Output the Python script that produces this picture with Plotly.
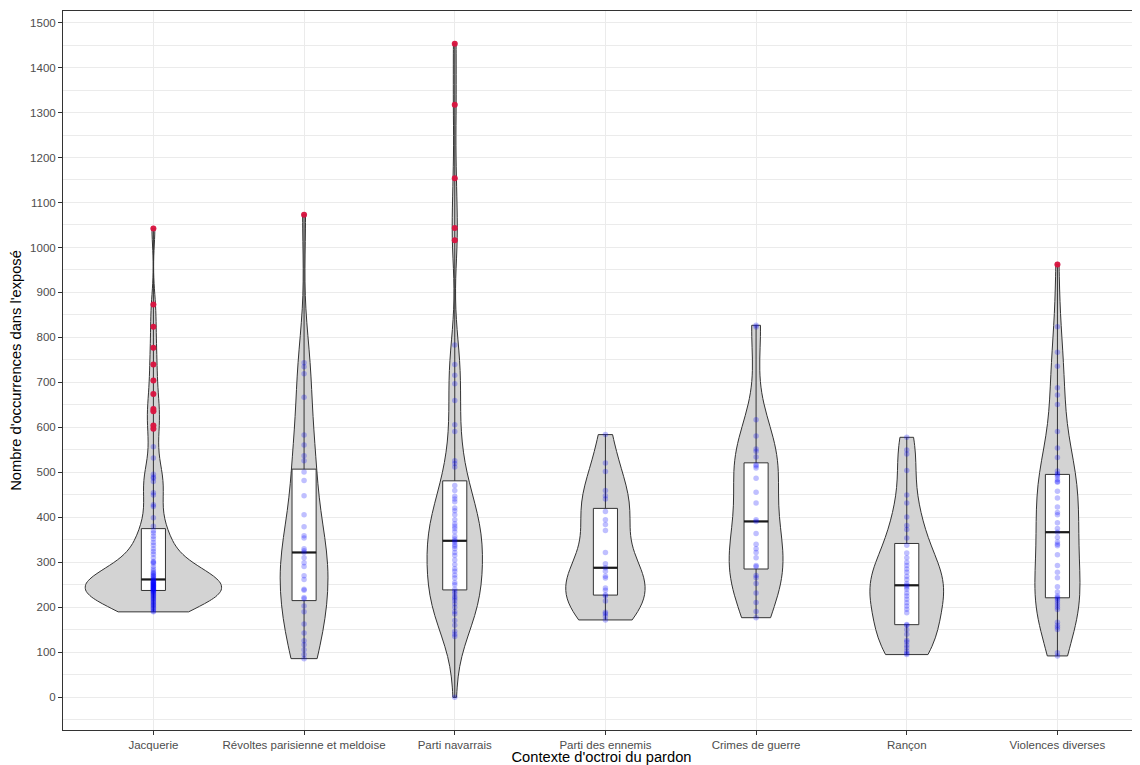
import numpy as np
import plotly.graph_objects as go

categories = ["Jacquerie", "Révoltes parisienne et meldoise", "Parti navarrais",
              "Parti des ennemis", "Crimes de guerre", "Rançon", "Violences diverses"]

jacquerie = [190, 192, 195, 198, 200, 203, 205, 207, 210, 212, 214, 217, 219, 221, 223, 225,
             227, 229, 231, 233, 234, 236, 237,
             238, 239, 240, 241, 242, 243, 244, 245, 246, 247, 248, 249, 250, 251, 252, 253,
             254, 255, 256, 257, 258, 260, 261,
             263, 265, 268, 270, 272, 275, 277, 281, 285, 291, 298, 300, 302, 310, 318, 324,
             330, 338, 344, 352, 358, 365, 370,
             380, 399, 424, 428, 450, 455, 480, 487, 490, 496, 532, 557,
             597, 604, 636, 641, 674, 704, 740, 777, 824, 873, 1042]
revoltes = [86, 95, 106, 117, 126, 143, 163, 190, 203, 219, 222, 238, 240, 262, 270, 291, 299,
            310, 322, 326, 330, 354, 359, 379, 406, 448, 482, 501, 526, 537, 561, 583, 667,
            719, 735, 744, 1073]
navarrais = [0, 135, 140, 147, 160, 171, 185, 191, 200, 208, 215, 220, 224, 230, 235, 240, 250,
             255, 265, 272, 280, 286, 295, 305, 315, 322, 330, 336, 339, 345, 348, 352, 358,
             368, 375, 380, 386, 395, 406, 415, 421, 435, 441, 447, 460, 471, 512, 520, 526,
             591, 606, 660, 697, 716, 740, 783, 1016, 1043, 1154, 1317, 1453]
ennemis = [172, 180, 186, 189, 214, 225, 228, 238, 243, 265, 269, 280, 288, 297, 322, 371, 384,
           395, 413, 441, 448, 460, 502, 521, 584]
crimes = [177, 191, 211, 232, 253, 266, 271, 290, 293, 310, 322, 330, 340, 364, 391, 395, 432,
          456, 487, 510, 514, 517, 534, 547, 552, 581, 617, 823, 827]
rancon = [95, 98, 103, 110, 116, 123, 127, 140, 150, 160, 162, 188, 196, 203, 210, 218, 225,
          232, 240, 245, 249, 253, 262, 269, 278, 285, 293, 300, 310, 321, 338, 354, 373, 382,
          401, 432, 450, 504, 541, 550, 578]
violences = [92, 99, 151, 156, 160, 167, 195, 200, 205, 210, 215, 219, 222, 225, 234, 246, 266,
             278, 293, 317, 337, 340, 345, 355, 367, 375, 388, 406, 411, 423, 443, 458, 478,
             480, 484, 491, 495, 497, 503, 533, 554, 591, 651, 672, 688, 736, 767, 824, 962]

groups = [jacquerie, revoltes, navarrais, ennemis, crimes, rancon, violences]


def bw_nrd0(v):
    # same rule as R's default density bandwidth
    v = np.asarray(v, dtype=float)
    iqr = np.percentile(v, 75) - np.percentile(v, 25)
    lo = min(np.std(v, ddof=1), iqr / 1.34)
    return 0.9 * lo * len(v) ** -0.2


def outliers(v):
    q1, q3 = np.percentile(v, [25, 75])
    lim = 1.5 * (q3 - q1)
    return [x for x in v if x < q1 - lim or x > q3 + lim]


fig = go.Figure()

# violins share one scale group so that they keep equal areas (no fixed width here)
for i, vals in enumerate(groups):
    n = len(vals)
    fig.add_trace(go.Violin(
        x=[i] * n, y=vals, scalegroup="all", scalemode="width",
        spanmode="hard", bandwidth=bw_nrd0(vals), points=False,
        fillcolor="#D3D3D3", line=dict(color="#333333", width=1),
        hoverinfo="skip", showlegend=False,
    ))

for i, vals in enumerate(groups):
    n = len(vals)
    fig.add_trace(go.Box(
        x=[i] * n, y=vals, width=0.16, quartilemethod="linear", whiskerwidth=0,
        fillcolor="white", line=dict(color="#333333", width=1),
        boxpoints=False, showlegend=False,
    ))
    med = float(np.median(vals))
    fig.add_trace(go.Scatter(
        x=[i - 0.08, i + 0.08], y=[med, med], mode="lines",
        line=dict(color="#1a1a1a", width=2.2), hoverinfo="skip", showlegend=False,
    ))

for i, vals in enumerate(groups):
    fig.add_trace(go.Scatter(
        x=[i] * len(vals), y=vals, mode="markers",
        marker=dict(color="blue", opacity=0.25, size=5.5, line=dict(width=0)),
        showlegend=False,
    ))

for i, vals in enumerate(groups):
    out = outliers(vals)
    fig.add_trace(go.Scatter(
        x=[i] * len(out), y=out, mode="markers",
        marker=dict(color="crimson", opacity=0.95, size=6, line=dict(width=0)),
        showlegend=False,
    ))

fig.update_layout(
    width=1132, height=757,
    margin=dict(l=55, r=0, t=3, b=35),
    paper_bgcolor="white", plot_bgcolor="white",
    violinmode="overlay", violingap=0.1, violingroupgap=0, boxmode="overlay",
    font=dict(family="Liberation Sans, Arial, sans-serif", color="#4D4D4D", size=11.5),
)
fig.update_xaxes(
    range=[-0.6, 6.548], tickmode="array", tickvals=list(range(len(categories))),
    ticktext=categories, showgrid=True, gridcolor="#EBEBEB", gridwidth=1,
    zeroline=False, showline=True, linecolor="#333333", linewidth=1, mirror=True,
    ticks="outside", ticklen=4, tickcolor="#333333",
    title=dict(text="Contexte d'octroi du pardon", standoff=3,
               font=dict(size=14.7, color="black")),
    automargin=False,
)
fig.update_yaxes(
    range=[-72.65, 1525.65], tickmode="linear", tick0=0, dtick=100,
    showgrid=True, gridcolor="#EBEBEB", gridwidth=1,
    minor=dict(dtick=50, tick0=0, showgrid=True, gridcolor="#EBEBEB", gridwidth=0.5),
    zeroline=False, showline=True, linecolor="#333333", linewidth=1,
    ticks="outside", ticklen=4, tickcolor="#333333",
    title=dict(text="Nombre d'occurrences dans l'exposé", standoff=8,
               font=dict(size=14.7, color="black")),
    automargin=False,
)

fig.write_html("out.html")
